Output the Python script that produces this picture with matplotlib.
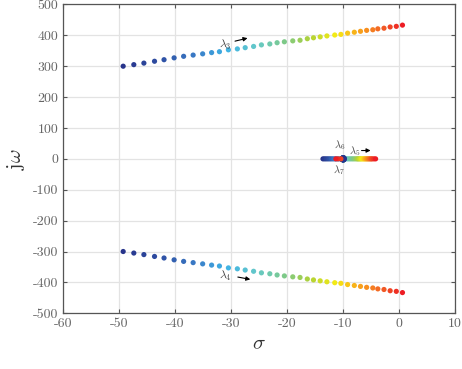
"""
Root locus style eigenvalue trajectories
"""
import numpy as np
import matplotlib
matplotlib.use('Agg')
import matplotlib.pyplot as plt
from matplotlib.colors import LinearSegmentedColormap

plt.rcParams['font.family'] = 'cmr10'
plt.rcParams['mathtext.fontset'] = 'cm'
plt.rcParams['axes.unicode_minus'] = False
plt.rcParams['axes.formatter.use_mathtext'] = False

# complex pair lambda3/lambda4 (real part, imag part of upper branch)
re34 = [-49.3, -47.4, -45.6, -43.7, -42.0, -40.2, -38.5, -36.8, -35.1, -33.5,
        -32.1, -30.5, -28.9, -27.5, -26.0, -24.6, -23.1, -21.8, -20.5, -19.0,
        -17.7, -16.4, -15.3, -14.1, -12.9, -11.5, -10.4, -9.2, -8.0, -6.9,
        -5.8, -4.7, -3.8, -2.7, -1.6, -0.5, 0.6]
im34 = [300, 305, 310, 316, 321, 327, 332, 336, 340, 344,
        347, 353, 356, 360, 364, 369, 372, 376, 379, 382,
        384, 389, 392, 395, 398, 401, 403, 407, 410, 413,
        416, 418, 421, 423, 427, 429, 433]

# real eigenvalue lambda5
re5 = [-13.6, -13.3, -13.0, -12.7, -12.4, -12.1, -11.8, -11.5, -11.2, -10.9,
       -10.6, -10.3, -10.0, -9.7, -9.4, -9.1, -8.8, -8.5, -8.2, -7.9,
       -7.6, -7.4, -7.2, -7.0, -6.8, -6.6, -6.4, -6.2, -6.0, -5.8,
       -5.6, -5.4, -5.2, -5.0, -4.8, -4.5, -4.2]

# lambda6/lambda7 (almost real, stay near -10)
re67 = [-10.0, -10.0, -10.0, -10.0, -10.0, -10.0, -10.0, -10.0, -10.0, -10.0,
        -10.0, -10.0, -10.0, -10.0, -10.0, -10.0, -10.0, -10.0, -10.0, -10.0,
        -10.0, -10.0, -10.0, -10.0, -10.0, -10.0, -10.0, -10.0, -10.0, -10.0,
        -10.0, -10.0, -10.0, -10.0, -10.4, -10.9, -11.3]

cmap = LinearSegmentedColormap.from_list('traj', [
    '#27348b', '#2e4fa3', '#3a7cc7', '#3fb3e6', '#66c9c7', '#7cc98a',
    '#b2d235', '#f6eb13', '#f9a51b', '#f26524', '#ed1c24'])
cols = cmap(np.linspace(0, 1, len(re34)))

fig = plt.figure(figsize=(4.62, 3.69), dpi=100)
ax = fig.add_axes([0.137, 0.151, 0.848, 0.837])

ms = 14
ax.scatter(re34, im34, s=ms, c=cols, edgecolors='none', zorder=3)
ax.scatter(re34, [-v for v in im34], s=ms, c=cols, edgecolors='none', zorder=3)
ax.scatter(re5, [0] * len(re5), s=ms, c=cols, edgecolors='none', zorder=3)
# first points sit on top of each other -> draw in reverse so the start colour shows
ax.scatter(re67[-4::-1], [0] * (len(re67) - 3), s=ms * 1.8, c=cols[-4::-1], edgecolors='none', zorder=4)
ax.scatter(re67[-3:], [0] * 3, s=ms, c=cols[-3:], edgecolors='none', zorder=4)

# labels + arrows
akw = dict(arrowstyle='-|>', color='k', lw=0.8, mutation_scale=6)
ax.text(-31, 368, r'$\lambda_3$', fontsize=8.5, color='#444444', ha='center', va='center')
ax.annotate('', xy=(-26.6, 393), xytext=(-29.8, 379), arrowprops=akw)
ax.text(-31, -378, r'$\lambda_4$', fontsize=8.5, color='#444444', ha='center', va='center')
ax.annotate('', xy=(-26.1, -392), xytext=(-29.3, -381), arrowprops=akw)
ax.text(-10.7, 45, r'$\lambda_6$', fontsize=7.5, color='#444444', ha='center', va='center')
ax.text(-8.0, 25, r'$\lambda_5$', fontsize=7.5, color='#444444', ha='center', va='center')
ax.annotate('', xy=(-4.6, 27), xytext=(-7.2, 27), arrowprops=akw)
ax.text(-10.7, -35, r'$\lambda_7$', fontsize=7.5, color='#444444', ha='center', va='center')

ax.set_xlim(-60, 10)
ax.set_ylim(-500, 500)
ax.set_xticks(np.arange(-60, 11, 10))
ax.set_yticks(np.arange(-500, 501, 100))
ax.grid(True, color='#e3e3e3', lw=0.9)
ax.set_axisbelow(True)
for s in ax.spines.values():
    s.set_color('#555555')
    s.set_linewidth(0.9)
ax.tick_params(direction='in', top=True, right=True, length=3, width=0.8,
               color='#555555', labelcolor='#666666', labelsize=10)

ax.set_xlabel(r'$\sigma$', fontsize=15, color='#333333')
ax.set_ylabel(r'$\mathrm{j}\omega$', fontsize=15, color='#333333')

fig.savefig('out.png', dpi=100)
